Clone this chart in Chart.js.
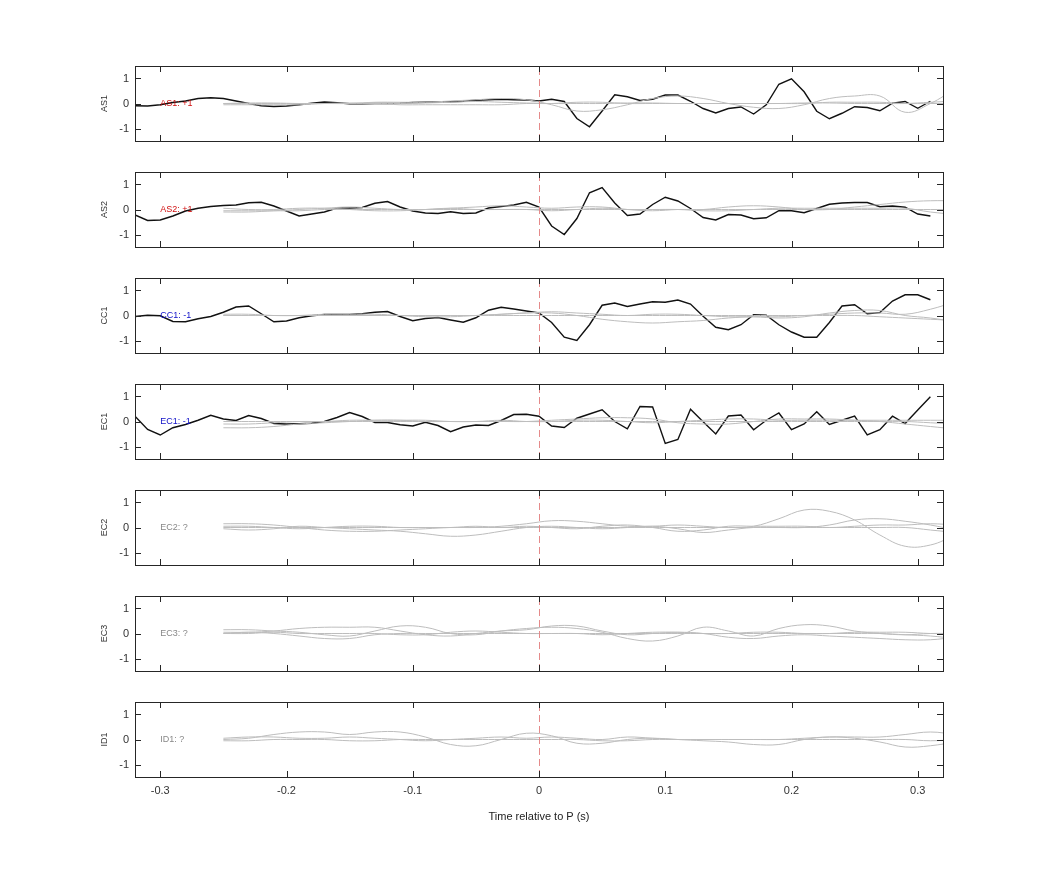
<!DOCTYPE html>
<html><head><meta charset="utf-8">
<script src="https://cdn.jsdelivr.net/npm/chart.js@4/dist/chart.umd.min.js"></script>
<style>body{margin:0;background:#fff;width:1042px;height:875px;position:relative;overflow:hidden}
.p{position:absolute;left:0;width:1042px}</style></head><body>
<script>
// ---- data ----
const blackX = [-0.32,-0.31,-0.30,-0.29,-0.28,-0.27,-0.26,-0.25,-0.24,-0.23,-0.22,-0.21,-0.20,-0.19,-0.18,-0.17,-0.16,-0.15,-0.14,-0.13,-0.12,-0.11,-0.10,-0.09,-0.08,-0.07,-0.06,-0.05,-0.04,-0.03,-0.02,-0.01,0.00,0.01,0.02,0.03,0.04,0.05,0.06,0.07,0.08,0.09,0.10,0.11,0.12,0.13,0.14,0.15,0.16,0.17,0.18,0.19,0.20,0.21,0.22,0.23,0.24,0.25,0.26,0.27,0.28,0.29,0.30,0.31];
const greyX = [-0.25,-0.23,-0.21,-0.19,-0.17,-0.15,-0.13,-0.11,-0.09,-0.07,-0.05,-0.03,-0.01,0.01,0.03,0.05,0.07,0.09,0.11,0.13,0.15,0.17,0.19,0.21,0.23,0.25,0.27,0.29,0.31,0.33];
const xTicks = [-0.3,-0.2,-0.1,0,0.1,0.2,0.3];
const yTicks = [-1,0,1];
const channels = ["AS1","AS2","CC1","EC1","EC2","EC3","ID1"];
const labels = ["AS1: +1","AS2: +1","CC1: -1","EC1: -1","EC2: ?","EC3: ?","ID1: ?"];
const labelColors = ["#d01010","#d01010","#1010c8","#1010c8","#888888","#888888","#888888"];

const as1Black = [-0.09,-0.1,-0.05,0.04,0.1,0.2,0.23,0.2,0.1,0,-0.09,-0.12,-0.1,-0.05,0.01,0.06,0.03,-0.01,-0.01,0,0,0.01,0.04,0.05,0.06,0.07,0.09,0.13,0.15,0.17,0.15,0.14,0.1,0.17,0.08,-0.6,-0.93,-0.3,0.35,0.27,0.12,0.17,0.34,0.34,0.09,-0.2,-0.38,-0.2,-0.14,-0.42,-0.05,0.77,0.99,0.47,-0.31,-0.61,-0.39,-0.13,-0.16,-0.29,0.01,0.08,-0.19,0.09];
const as2Black = [-0.22,-0.44,-0.42,-0.26,-0.06,0.05,0.12,0.16,0.18,0.27,0.29,0.14,-0.06,-0.26,-0.18,-0.1,0.06,0.06,0.08,0.25,0.32,0.1,-0.06,-0.14,-0.16,-0.09,-0.16,-0.14,0.06,0.12,0.18,0.29,0.1,-0.66,-1.0,-0.36,0.67,0.88,0.26,-0.24,-0.18,0.2,0.49,0.34,0.04,-0.32,-0.42,-0.2,-0.22,-0.37,-0.33,-0.05,-0.05,-0.13,0.04,0.21,0.26,0.28,0.28,0.11,0.14,0.09,-0.18,-0.26];
const cc1Black = [-0.04,0.01,-0.01,-0.24,-0.25,-0.13,-0.04,0.13,0.34,0.38,0.07,-0.25,-0.22,-0.09,-0.01,0.04,0.04,0.04,0.07,0.13,0.16,-0.04,-0.21,-0.12,-0.08,-0.18,-0.27,-0.09,0.21,0.33,0.26,0.18,0.1,-0.28,-0.87,-1.0,-0.37,0.41,0.5,0.36,0.46,0.55,0.53,0.62,0.46,-0.03,-0.47,-0.57,-0.37,0.03,0.01,-0.37,-0.66,-0.87,-0.87,-0.28,0.38,0.43,0.07,0.12,0.58,0.83,0.83,0.63];
const ec1Black = [0.21,-0.32,-0.54,-0.25,-0.12,0.05,0.25,0.1,0.04,0.24,0.12,-0.08,-0.1,-0.09,-0.07,0,0.16,0.36,0.2,-0.04,-0.04,-0.13,-0.18,-0.03,-0.16,-0.41,-0.22,-0.14,-0.16,0.04,0.28,0.29,0.21,-0.18,-0.24,0.13,0.3,0.47,0,-0.29,0.6,0.58,-0.88,-0.72,0.49,-0.01,-0.5,0.22,0.26,-0.33,0.05,0.34,-0.33,-0.1,0.39,-0.12,0.05,0.22,-0.54,-0.33,0.21,-0.08,0.46,0.99];

const as1Grey1 = [0,0,0,0,0,0,0.05,0.05,0.05,0.1,0.15,0.2,0.15,-0.05,-0.3,-0.25,-0.05,0.2,0.3,0.2,0,-0.15,-0.2,-0.05,0.2,0.3,0.3,-0.35,0,0.6];
const as1Grey2 = [-0.05,-0.05,-0.05,-0.05,0,0,0,-0.05,-0.05,-0.05,-0.05,-0.05,0,0,0.05,0.05,0,0,0,0,0,0,0,0,0.05,0.05,0.05,0,0,0];
const as1Grey3 = [0,0.02,0.02,0,0,0.02,0,0,0.02,0.05,0.08,0.05,0.02,0,0,0,0.02,0.02,0,0,0,0,0,0.02,0.02,0,0,0,0.05,0.1];
const as2Grey1 = [-0.1,-0.1,-0.05,0,0.05,0.1,0.05,0,0,0.05,0.1,0.15,0.1,0.05,0.1,0.1,0,-0.05,0,0,0.1,0.15,0.1,0,0,0.1,0.2,0.3,0.35,0.35];
const as2Grey2 = [0.05,0,0,0.05,0.05,0,-0.05,-0.05,0,0.05,0,0,0,-0.05,0,0.05,0,0,0,-0.05,-0.05,0,0.05,0.05,0.05,0.05,0.05,0.05,-0.1,-0.2];
const as2Grey3 = [-0.05,-0.05,-0.05,-0.05,0,0,0,0,0,0,0,0,0,0,0,0,0,0,0,0,0,0,0,0,0,0,0,0,0,0];
const cc1Grey1 = [0,0,0,0,0,0,0,0,0,0,0,0.05,0.1,0.1,0,-0.15,-0.25,-0.3,-0.25,-0.2,-0.1,-0.05,-0.05,0,0.05,0.1,0.1,0.05,0.25,0.55];
const cc1Grey2 = [0.05,0.05,0,0,0.05,0.05,0.05,0,-0.05,-0.05,0,0.05,0.1,0.15,0.1,0.05,0,0.05,0.05,0,-0.05,-0.05,-0.1,-0.05,0.1,0.2,0.2,0,-0.1,-0.25];
const cc1Grey3 = [0,0,0,0,0,0,0,0,0,0,0,0,0,0,0,0,0,0,0,0,0,0,0,0,0,0,-0.05,-0.1,-0.15,-0.2];
const ec1Grey1 = [-0.25,-0.25,-0.2,-0.1,-0.05,0,0.05,0.05,0,0,0,0,0,0.05,0.1,0.15,0.15,0.1,-0.05,-0.1,-0.1,0,0.1,0.1,0.1,0.05,0,-0.1,-0.2,-0.3];
const ec1Grey2 = [-0.1,-0.1,-0.05,0,0,0.05,0.05,0.05,0.05,0,0,0.05,0,0,0.05,0.05,0,-0.05,0,0.05,0.1,0.1,0.05,0.05,0.05,0.05,0.05,0.05,0.05,0.05];
const ec1Grey3 = [0,0,0,0,0,0,0,0,0,0,0,0,0,0,0,0,0,0,0,0,0,0,0,0,0,0,0,0,-0.05,-0.1];
const ec2Grey1 = [0.15,0.15,0.1,0,-0.1,-0.15,-0.15,-0.1,-0.05,0,0,0.05,0.15,0.27,0.25,0.15,0.05,0.05,0.1,0.05,0,0.05,0.35,0.7,0.65,0.3,-0.3,-0.75,-0.7,-0.3];
const ec2Grey2 = [-0.05,-0.1,-0.05,0.05,0,-0.05,-0.1,-0.15,-0.25,-0.35,-0.3,-0.15,0,0.05,0,-0.05,0,0.05,-0.05,-0.2,-0.1,0,0,0,0.1,0.3,0.35,0.25,0.1,-0.1];
const ec2Grey3 = [0,0,0,0,0,0,0,0,0,0,0,0,0,0,0,0,0,0,0,0,0,0,0,0,0,0,0,0,-0.1,-0.2];
const ec2Grey4 = [0.05,0.05,0,-0.05,0,0.05,0.05,0,0,0,0.05,0,0.05,0,-0.05,0.05,0.1,0,-0.15,-0.1,0.05,0.05,0.05,0.05,0,0.05,0.1,0.1,0.15,0.1];
const ec3Grey1 = [0.15,0.15,0.1,0.05,-0.05,-0.1,0.1,0.3,0.25,0,-0.05,0.1,0.2,0.25,0.2,0.05,-0.2,-0.3,-0.1,0.25,0.1,-0.1,0.2,0.35,0.3,0.1,0,-0.05,0,0];
const ec3Grey2 = [0.05,0.05,0.1,0.2,0.25,0.25,0.25,0.1,-0.05,-0.1,0,0.1,0.15,0.3,0.3,0.1,-0.05,0,0.05,0,-0.15,-0.2,-0.1,-0.05,-0.1,-0.15,-0.2,-0.25,-0.25,-0.15];
const ec3Grey3 = [0,0.05,0,-0.1,-0.2,-0.2,-0.05,0,0,0,0,0,0,0,0,0,0,0,0,0,0,0,0,0,0,0,0,-0.05,-0.1,-0.2];
const ec3Grey4 = [0,0,0.05,0,0,0,0,-0.05,-0.05,0.05,0.1,0.05,0,0,0,-0.05,0,0.05,0.05,0,0,0.05,0.05,0,0,0.05,0.05,0.05,0,0];
const id1Grey1 = [0,0.05,0.2,0.3,0.3,0.2,0.3,0.3,0.1,-0.2,-0.25,0,0.25,0.15,-0.15,-0.15,0,0.05,0,-0.05,-0.1,-0.2,-0.2,0,0.1,0.05,-0.1,-0.3,-0.25,-0.1];
const id1Grey2 = [0.05,0.1,0.1,0.05,0.05,0.1,0.05,0,-0.05,0,0.05,0.1,0.05,0.1,0.05,0,0.1,0.05,0,0,0,0,0,0.05,0.1,0.1,0.1,0.2,0.3,0.2];
const id1Grey3 = [-0.05,-0.05,0,0,0,-0.05,-0.05,0,0,0,0,0,0,0,0,-0.05,-0.05,0,0,0,0,0,0,0,0,0,0,0,-0.05,0];

const blackSeries = [as1Black, as2Black, cc1Black, ec1Black, null, null, null];
const greySeries = [
  [as1Grey1,as1Grey2,as1Grey3],[as2Grey1,as2Grey2,as2Grey3],[cc1Grey1,cc1Grey2,cc1Grey3],
  [ec1Grey1,ec1Grey2,ec1Grey3],[ec2Grey1,ec2Grey2,ec2Grey3,ec2Grey4],
  [ec3Grey1,ec3Grey2,ec3Grey3,ec3Grey4],[id1Grey1,id1Grey2,id1Grey3]];

// ---- layout ----
const FONT = 'Helvetica, "Liberation Sans", Arial, sans-serif';
const panelTops = [66,172,278,384,490,596,702];
const PH = 75, PAD = 8;

const framePlugin = {
  id:'frame',
  afterDatasetsDraw(chart, args, opts){
    const {ctx, chartArea:a, scales:{x,y}} = chart;
    ctx.save();
    ctx.strokeStyle = '#e58a8a'; ctx.lineWidth = 1; ctx.setLineDash([7,4]);
    const x0 = Math.round(x.getPixelForValue(0))+0.5;
    ctx.beginPath(); ctx.moveTo(x0,a.top+2); ctx.lineTo(x0,a.bottom-2); ctx.stroke();
    ctx.setLineDash([]);
    ctx.strokeStyle = '#262626'; ctx.lineWidth = 1;
    ctx.strokeRect(Math.round(a.left)+0.5, Math.round(a.top)+0.5, Math.round(a.right-a.left), Math.round(a.bottom-a.top));
    ctx.beginPath();
    xTicks.forEach(v=>{const p=Math.round(x.getPixelForValue(v))+0.5;
      ctx.moveTo(p,a.top); ctx.lineTo(p,a.top+6); ctx.moveTo(p,a.bottom); ctx.lineTo(p,a.bottom-6);});
    yTicks.forEach(v=>{const p=Math.round(y.getPixelForValue(v))+0.5;
      ctx.moveTo(a.left,p); ctx.lineTo(a.left+6,p); ctx.moveTo(a.right,p); ctx.lineTo(a.right-6,p);});
    ctx.stroke();
    ctx.fillStyle = opts.color; ctx.font = '9px '+FONT; ctx.textBaseline='middle'; ctx.textAlign='left';
    ctx.fillText(opts.text, x.getPixelForValue(-0.3), y.getPixelForValue(0));
    ctx.fillStyle = '#333'; ctx.font = '9px '+FONT; ctx.textAlign='center';
    ctx.translate(105, y.getPixelForValue(0)); ctx.rotate(-Math.PI/2);
    ctx.fillText(opts.ch, 0, 0);
    ctx.restore();
  }
};

channels.forEach((ch,i)=>{
  const last = i===6;
  const h = PH + 2*PAD + (last ? 50 : 0);
  const wrap=document.createElement('div'); wrap.className='p'; wrap.style.top=(panelTops[i]-PAD)+'px'; wrap.style.height=h+'px';
  const c = document.createElement('canvas'); c.width=1042; c.height=h; c.style.display='block';
  wrap.appendChild(c); document.body.appendChild(wrap);
  const datasets = [];
  greySeries[i].forEach(s=>datasets.push({data:s.map((v,k)=>({x:greyX[k],y:v})),borderColor:'#bdbdbd',borderWidth:1,pointRadius:0,tension:0.4}));
  if(blackSeries[i]) datasets.push({data:blackSeries[i].map((v,k)=>({x:blackX[k],y:v})),borderColor:'#111',borderWidth:1.4,pointRadius:0,tension:0});
  new Chart(c,{type:'line',data:{datasets},
    options:{responsive:false,animation:false,devicePixelRatio:1,
      layout:{padding:{top:PAD,bottom:last?7:PAD,right:99,left:0}},
      plugins:{legend:{display:false},tooltip:{enabled:false},frame:{text:labels[i],color:labelColors[i],ch:ch}},
      scales:{
        x:{type:'linear',min:-0.32,max:0.32,display:last,
          afterBuildTicks:s=>{s.ticks=xTicks.map(v=>({value:v}));},
          afterFit:s=>{ if(last) s.height=51; s.paddingLeft=0; s.paddingRight=0; },
          grid:{display:false,drawTicks:false,tickLength:0},border:{display:false},
          ticks:{color:'#333',font:{size:11,family:FONT},padding:7,maxRotation:0,callback:v=>String(v)},
          title:{display:true,text:'Time relative to P (s)',color:'#222',font:{size:11,family:FONT},padding:{top:4}}},
        y:{min:-1.5,max:1.5,
          afterBuildTicks:s=>{s.ticks=yTicks.map(v=>({value:v}));},
          afterFit:s=>{s.width=135; s.paddingTop=0; s.paddingBottom=0;},
          grid:{display:false,drawTicks:false,tickLength:0},border:{display:false},
          ticks:{color:'#333',font:{size:11,family:FONT},padding:6,callback:v=>String(v)}}
      }},
    plugins:[framePlugin]});
});
</script></body></html>
